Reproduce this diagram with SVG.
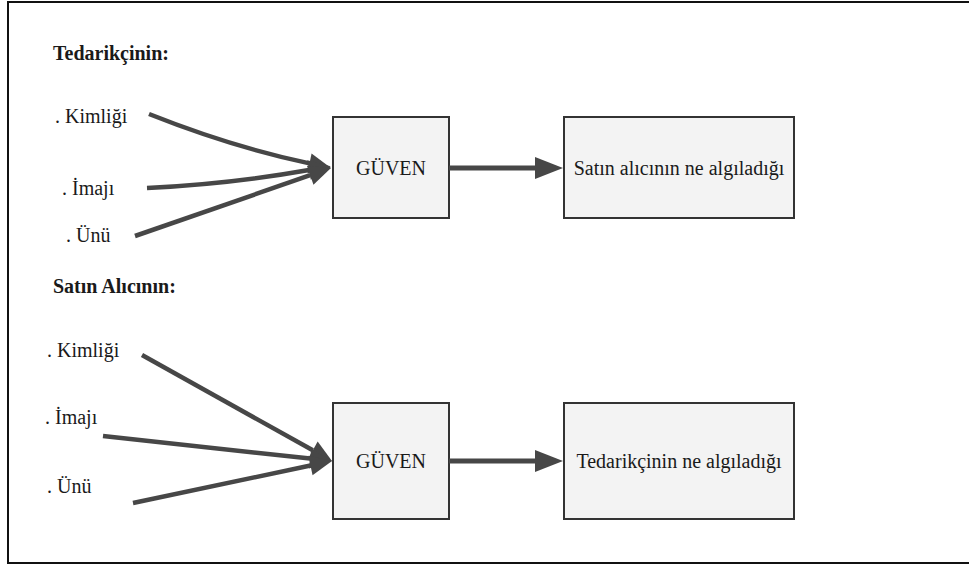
<svg xmlns="http://www.w3.org/2000/svg" width="969" height="565" viewBox="0 0 969 565">
<style>
.frame{fill:#fff;stroke:#111;stroke-width:2}
.box{fill:#f3f3f3;stroke:#333;stroke-width:2}
.t{font-family:"Liberation Serif","Times New Roman",serif;font-size:20px;fill:#1a1a1a}
.h{font-family:"Liberation Serif","Times New Roman",serif;font-size:20px;font-weight:bold;fill:#1a1a1a}
.mid{text-anchor:middle}
.c{fill:none;stroke:#474747;stroke-width:4.5;stroke-linecap:butt}
.hz{fill:none;stroke:#474747;stroke-width:5}
</style>
<defs>
<marker id="ah" markerUnits="userSpaceOnUse" markerWidth="22" markerHeight="20" refX="0" refY="10" orient="auto" overflow="visible">
<path d="M0,0 L22,10 L0,20 z" fill="#474747"/>
</marker>
<marker id="ah2" markerUnits="userSpaceOnUse" markerWidth="28" markerHeight="22" refX="0" refY="11" orient="auto" overflow="visible">
<path d="M0,0 L28,11 L0,22 z" fill="#474747"/>
</marker>
</defs>
<rect class="frame" x="8" y="2" width="980" height="561"/>
<g id="header-top"><text class="h" x="53" y="60">Tedarikçinin:</text></g>
<g id="header-bottom"><text class="h" x="53" y="293">Satın Alıcının:</text></g>
<g id="lbl-top-kimligi"><text class="t" x="55" y="123">. Kimliği</text></g>
<g id="lbl-top-imaji"><text class="t" x="62" y="195">. İmajı</text></g>
<g id="lbl-top-unu"><text class="t" x="66" y="242">. Ünü</text></g>
<g id="lbl-bot-kimligi"><text class="t" x="47" y="357">. Kimliği</text></g>
<g id="lbl-bot-imaji"><text class="t" x="45" y="424">. İmajı</text></g>
<g id="lbl-bot-unu"><text class="t" x="47" y="493">. Ünü</text></g>
<g id="guven-top"><rect class="box" x="333" y="117" width="116" height="101"/><text class="t mid" x="391" y="175">GÜVEN</text></g>
<g id="result-top"><rect class="box" x="564" y="117" width="230" height="101"/><text class="t mid" x="679" y="175">Satın alıcının ne algıladığı</text></g>
<g id="guven-bottom"><rect class="box" x="333" y="403" width="116" height="116"/><text class="t mid" x="391" y="468">GÜVEN</text></g>
<g id="result-bottom"><rect class="box" x="564" y="403" width="230" height="116"/><text class="t mid" x="679" y="468">Tedarikçinin ne algıladığı</text></g>
<g id="connectors">
<path class="c" d="M149,114 Q232,147 309.5,163.4" marker-end="url(#ah)"/>
<path class="c" d="M147,188 Q230,184 309,170" marker-end="url(#ah)"/>
<path class="c" d="M135,236 L310.2,175.2" marker-end="url(#ah)"/>
<path class="hz" d="M449,168 L535,168" marker-end="url(#ah2)"/>
<path class="c" d="M142,355 L312.8,450.3" marker-end="url(#ah)"/>
<path class="c" d="M103,436 L310.1,458.6" marker-end="url(#ah)"/>
<path class="c" d="M133,503 L310.5,465.5" marker-end="url(#ah)"/>
<path class="hz" d="M449,461 L535,461" marker-end="url(#ah2)"/>
</g>
</svg>
